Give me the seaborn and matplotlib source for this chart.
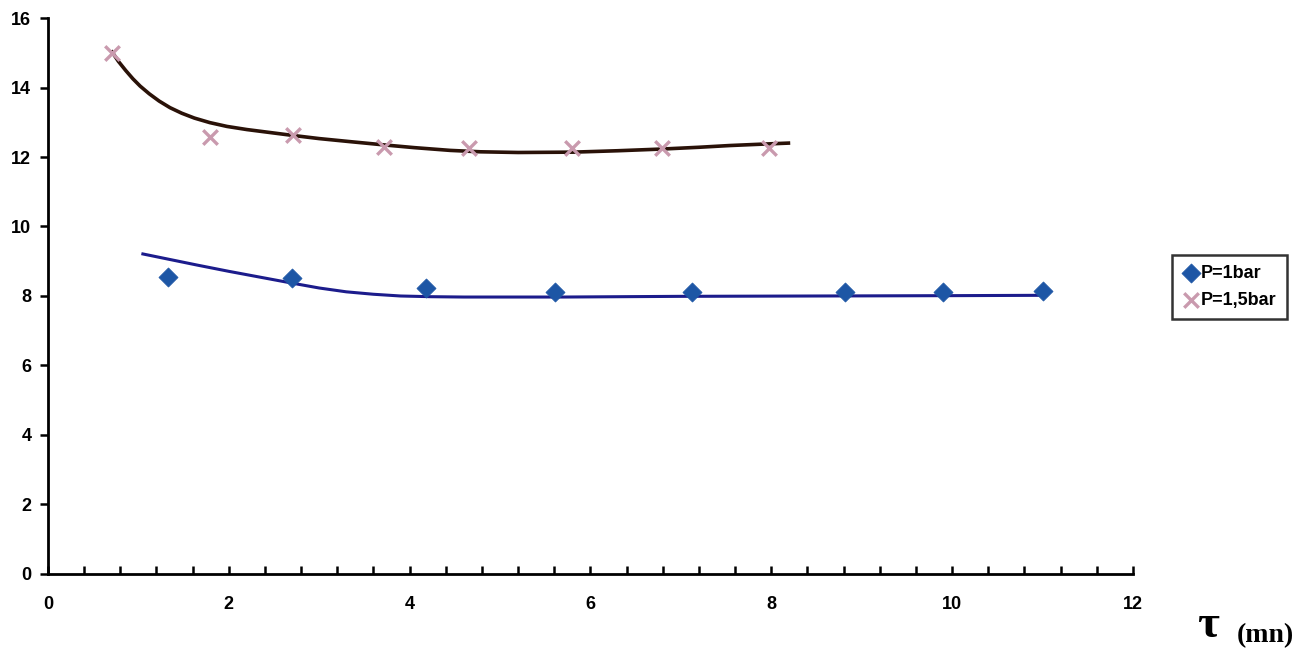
import numpy as np
import pandas as pd
import matplotlib
matplotlib.use("Agg")
import matplotlib.pyplot as plt
from matplotlib.ticker import MultipleLocator
import seaborn as sns

# Measured points
t_1bar = [1.33, 2.70, 4.18, 5.61, 7.12, 8.82, 9.90, 11.01]
v_1bar = [8.55, 8.52, 8.23, 8.12, 8.12, 8.12, 8.12, 8.14]

t_15bar = [0.71, 1.79, 2.71, 3.72, 4.66, 5.80, 6.79, 7.98]
v_15bar = [15.0, 12.57, 12.62, 12.30, 12.27, 12.27, 12.27, 12.27]

# Trend curves
trend_t_1bar = [1.05, 1.35, 1.65, 2.0, 2.35, 2.68, 3.0, 3.3, 3.6, 3.9, 4.23, 4.6, 5.0, 5.70,
                7.0, 8.5, 10.0, 11.04]
trend_v_1bar = [9.21, 9.05, 8.89, 8.71, 8.54, 8.38, 8.23, 8.12, 8.05, 8.00, 7.98, 7.97, 7.97,
                7.97, 7.99, 8.0, 8.01, 8.02]

trend_t_15bar = [0.71, 0.78, 0.86, 0.94, 1.02, 1.12, 1.23, 1.35, 1.48, 1.62, 1.79, 1.98, 2.2,
                 2.44, 2.68, 3.0, 3.35, 3.71, 4.05, 4.45, 4.78, 5.2, 5.81, 6.3, 6.80, 7.2,
                 7.54, 7.9, 8.19]
trend_v_15bar = [15.02, 14.75, 14.49, 14.25, 14.04, 13.82, 13.61, 13.42, 13.26, 13.12, 12.99,
                 12.88, 12.79, 12.71, 12.63, 12.53, 12.44, 12.35, 12.27, 12.19, 12.15, 12.13,
                 12.14, 12.18, 12.23, 12.28, 12.33, 12.37, 12.40]

labels = ["P=1bar", "P=1,5bar"]

pts = pd.DataFrame({
    "t": t_1bar + t_15bar,
    "v": v_1bar + v_15bar,
    "serie": [labels[0]] * len(t_1bar) + [labels[1]] * len(t_15bar),
})

plt.rcParams["font.family"] = ["Liberation Sans", "DejaVu Sans"]
plt.rcParams["font.weight"] = "bold"

fig = plt.figure(figsize=(13.1, 6.55), dpi=100)
ax = fig.add_axes([0.0366, 0.1237, 0.8282, 0.8488])

# trend lines
sns.lineplot(x=trend_t_15bar, y=trend_v_15bar, ax=ax, color="#2a1208", linewidth=2.6,
             sort=False, legend=False)
sns.lineplot(x=trend_t_1bar, y=trend_v_1bar, ax=ax, color="#1c1c8c", linewidth=2.2,
             sort=False, legend=False)

# points
sns.scatterplot(data=pts[pts.serie == labels[0]], x="t", y="v", ax=ax, marker="D",
                s=95, color="#1d56a5", edgecolor="#1d56a5", linewidth=0.5,
                label=labels[0], zorder=3)
sns.scatterplot(data=pts[pts.serie == labels[1]], x="t", y="v", ax=ax, marker="x",
                s=110, color="#c99aae", linewidth=2.4, label=labels[1], zorder=3)

ax.set_xlim(0, 12)
ax.set_ylim(0, 16)
ax.set_xlabel("")
ax.set_ylabel("")

for s in ["top", "right"]:
    ax.spines[s].set_visible(False)
for s in ["left", "bottom"]:
    ax.spines[s].set_linewidth(2.0)
    ax.spines[s].set_color("black")

ax.xaxis.set_major_locator(MultipleLocator(2))
ax.xaxis.set_minor_locator(MultipleLocator(0.4))
ax.yaxis.set_major_locator(MultipleLocator(2))
ax.tick_params(axis="x", which="both", direction="in", length=6, width=1.8, pad=16,
               labelsize=13)
ax.tick_params(axis="y", which="major", direction="out", length=6, width=1.8, pad=6,
               labelsize=13)
for lab in ax.get_xticklabels() + ax.get_yticklabels():
    lab.set_fontweight("bold")

leg = ax.legend(loc="upper left", bbox_to_anchor=(0.8947, 0.611),
                bbox_transform=fig.transFigure, frameon=True, fancybox=False,
                borderaxespad=0.0, borderpad=0.55, handletextpad=0.05, handlelength=1.0,
                labelspacing=0.55, prop={"weight": "bold", "size": 13})
leg.get_frame().set_edgecolor("black")
leg.get_frame().set_linewidth(1.8)

# axis title
fig.text(0.914, 0.012, "τ", fontsize=34, fontweight="bold",
         family=["Liberation Serif", "DejaVu Serif"], ha="left", va="bottom")
fig.text(0.944, 0.010, "(mn)", fontsize=20, fontweight="bold",
         family=["Liberation Serif", "DejaVu Serif"], ha="left", va="bottom")

fig.savefig("out.png", dpi=100)
